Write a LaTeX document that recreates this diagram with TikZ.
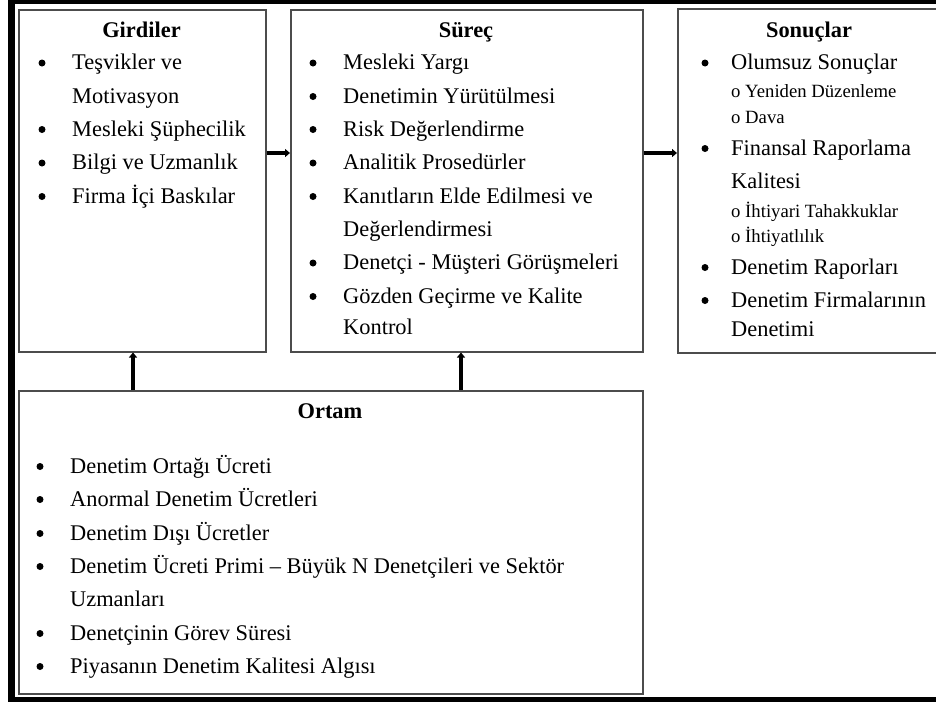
\documentclass[tikz,border=0pt]{standalone}
\usepackage{fontspec}
\setmainfont{Liberation Serif}
\usetikzlibrary{arrows.meta}
\begin{document}
\begin{tikzpicture}[x=1pt,y=-1pt,
  box/.style={draw=black!70, line width=1.5pt, inner sep=0pt, anchor=north west},
  itm/.style={anchor=base west, inner sep=0pt, font=\fontsize{22.4}{24}\selectfont},
  bul/.style={circle, fill=black, inner sep=0pt, minimum size=7pt, yshift=6.5pt},
  ttl/.style={anchor=base, inner sep=0pt, font=\fontsize{22.4}{24}\selectfont\bfseries},
  subitm/.style={anchor=base west, inner sep=0pt, font=\fontsize{18.7}{20}\selectfont},
  arr/.style={line width=3.6pt, -{Triangle[length=5pt,width=8pt]}}
]
\useasboundingbox (0,0) rectangle (936,702);
\clip (0,0) rectangle (936,702);
% outer frame
\fill[black] (8,0) rectangle (15,702);
\fill[black] (8,0) rectangle (936,4);
\fill[black] (8,697) rectangle (936,702);

% boxes
\node[box, minimum width=247pt, minimum height=342pt] (gird) at (18,9) {};
\node[box, minimum width=352pt, minimum height=342pt] (proc) at (290,9) {};
\node[box, minimum width=264pt, minimum height=344pt] (sonu) at (677,8) {};
\node[box, minimum width=624pt, minimum height=303pt] (env) at (18,390) {};

% Girdiler
\node[ttl] (gt) at (141.5,37) {Girdiler};
\node[bul] (gb1) at (42,69.5) {};
\node[itm] (gi1) at (72,69.5) {Teşvikler ve};
\node[itm] (gi1b) at (72,103) {Motivasyon};
\node[bul] (gb2) at (42,136) {};
\node[itm] (gi2) at (72,136) {Mesleki Şüphecilik};
\node[bul] (gb3) at (42,169.5) {};
\node[itm] (gi3) at (72,169.5) {Bilgi ve Uzmanlık};
\node[bul] (gb4) at (42,203) {};
\node[itm] (gi4) at (72,203) {Firma İçi Baskılar};

% Surec
\node[ttl] (pt) at (466,37) {Süreç};
\node[bul] (pb1) at (313,69.5) {};
\node[itm] (pi1) at (343,69.5) {Mesleki Yargı};
\node[bul] (pb2) at (313,103) {};
\node[itm] (pi2) at (343,103) {Denetimin Yürütülmesi};
\node[bul] (pb3) at (313,136) {};
\node[itm] (pi3) at (343,136) {Risk Değerlendirme};
\node[bul] (pb4) at (313,169.5) {};
\node[itm] (pi4) at (343,169.5) {Analitik Prosedürler};
\node[bul] (pb5) at (313,203) {};
\node[itm] (pi5) at (343,203) {Kanıtların Elde Edilmesi ve};
\node[itm] (pi5b) at (343,236) {Değerlendirmesi};
\node[bul] (pb6) at (313,269.5) {};
\node[itm] (pi6) at (343,269.5) {Denetçi - Müşteri Görüşmeleri};
\node[bul] (pb7) at (313,303) {};
\node[itm] (pi7) at (343,303) {Gözden Geçirme ve Kalite};
\node[itm] (pi7b) at (343,334) {Kontrol};

% Sonuclar
\node[ttl] (st) at (809,37) {Sonuçlar};
\node[bul] (sb1) at (705,69.5) {};
\node[itm] (si1) at (731,69.5) {Olumsuz Sonuçlar};
\node[subitm] (ss1) at (731,97) {o Yeniden Düzenleme};
\node[subitm] (ss2) at (731,123) {o Dava};
\node[bul] (sb2) at (705,155) {};
\node[itm] (si2) at (731,155) {Finansal Raporlama};
\node[itm] (si2b) at (731,188) {Kalitesi};
\node[subitm] (ss3) at (731,217) {o İhtiyari Tahakkuklar};
\node[subitm] (ss4) at (731,242) {o İhtiyatlılık};
\node[bul] (sb3) at (705,274) {};
\node[itm] (si3) at (731,274) {Denetim Raporları};
\node[bul] (sb4) at (705,307) {};
\node[itm] (si4) at (731,307) {Denetim Firmalarının};
\node[itm] (si4b) at (731,336) {Denetimi};

% Ortam
\node[ttl] (et) at (330,418) {Ortam};
\node[bul] (eb1) at (40,473) {};
\node[itm] (ei1) at (70,473) {Denetim Ortağı Ücreti};
\node[bul] (eb2) at (40,506) {};
\node[itm] (ei2) at (70,506) {Anormal Denetim Ücretleri};
\node[bul] (eb3) at (40,540) {};
\node[itm] (ei3) at (70,540) {Denetim Dışı Ücretler};
\node[bul] (eb4) at (40,573) {};
\node[itm] (ei4) at (70,573) {Denetim Ücreti Primi – Büyük N Denetçileri ve Sektör};
\node[itm] (ei4b) at (70,606) {Uzmanları};
\node[bul] (eb5) at (40,640) {};
\node[itm] (ei5) at (70,640) {Denetçinin Görev Süresi};
\node[bul] (eb6) at (40,673) {};
\node[itm] (ei6) at (70,673) {Piyasanın Denetim Kalitesi Algısı};

% connectors
\coordinate (ah) at (0,153);
\coordinate (u1) at (133,0);
\coordinate (u2) at (461,0);
\draw[arr] (gird.east |- ah) -- (proc.west |- ah);
\draw[arr] (proc.east |- ah) -- (sonu.west |- ah);
\draw[arr] (env.north -| u1) -- (gird.south -| u1);
\draw[arr] (env.north -| u2) -- (proc.south -| u2);
\end{tikzpicture}
\end{document}
